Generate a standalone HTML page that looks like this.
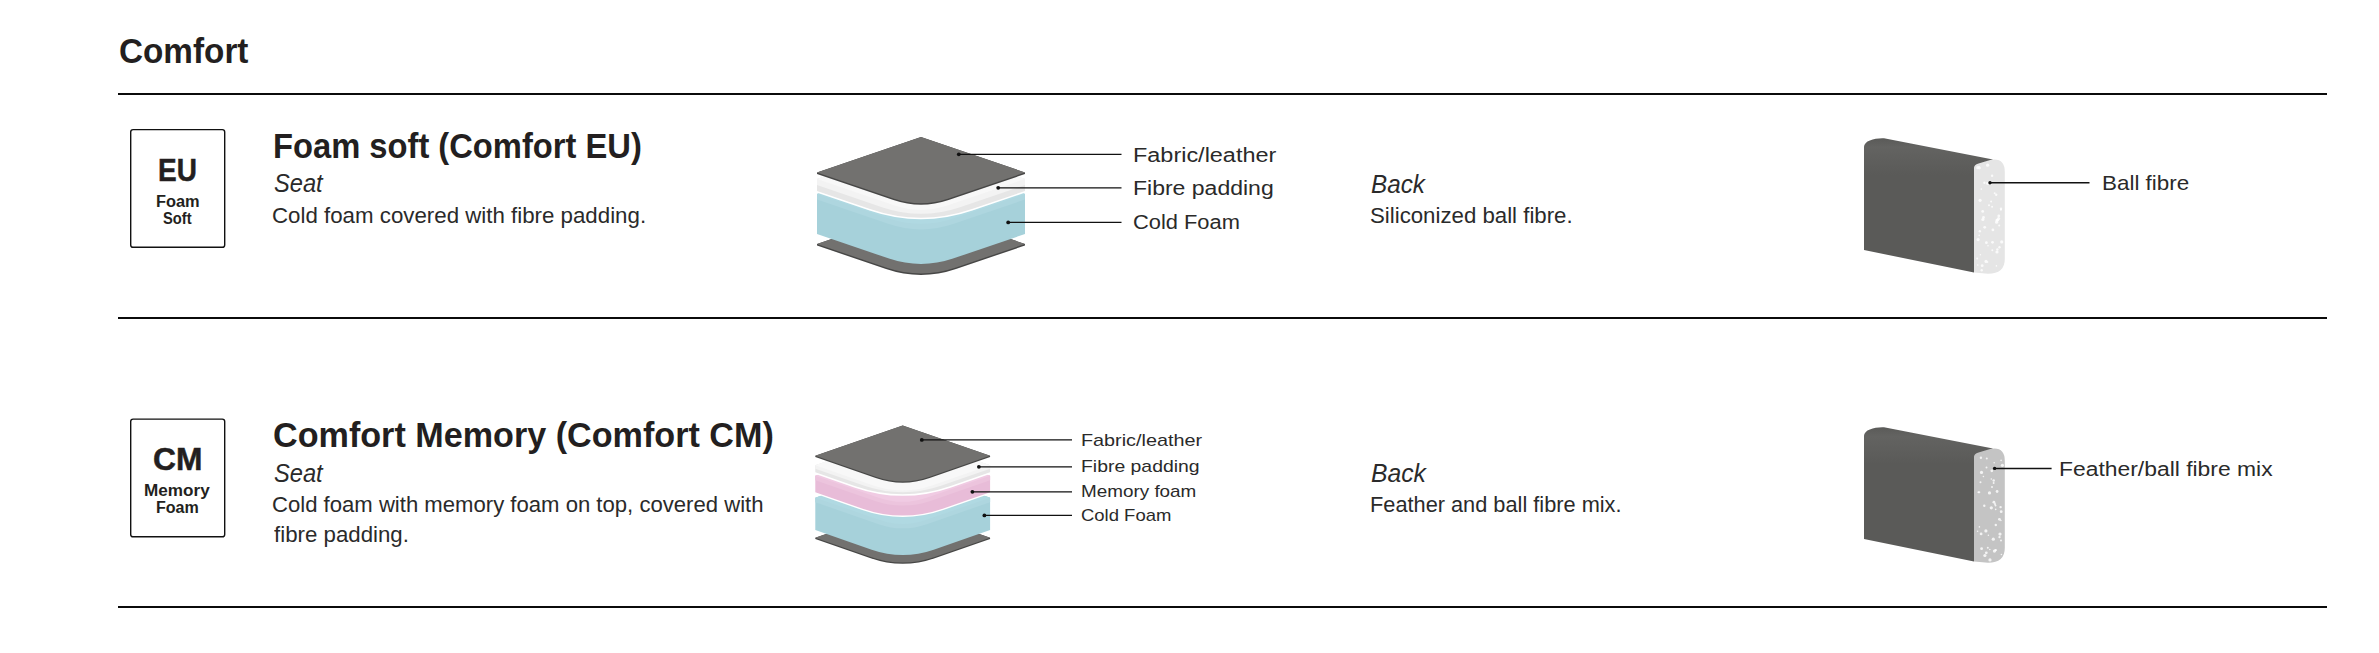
<!DOCTYPE html><html><head><meta charset="utf-8"><title>Comfort</title><style>
html,body{margin:0;padding:0;background:#fff;}
body{width:2379px;height:653px;position:relative;overflow:hidden;font-family:"Liberation Sans",sans-serif;color:#231f20;}
.t{position:absolute;white-space:nowrap;line-height:1;transform-origin:0 0;}
svg{position:absolute;left:0;top:0;}
</style></head><body>
<svg width="2379" height="653" viewBox="0 0 2379 653"><rect x="118" y="93" width="2209" height="2" fill="#0b0b0b"/><rect x="118" y="317" width="2209" height="2" fill="#0b0b0b"/><rect x="118" y="606" width="2209" height="2" fill="#0b0b0b"/><rect x="130.7" y="129.6" width="94" height="117.7" rx="2.4" fill="none" stroke="#111" stroke-width="1.4"/><rect x="130.7" y="419.1" width="94" height="117.7" rx="2.4" fill="none" stroke="#111" stroke-width="1.4"/><path d="M817.00,244.00 L921.00,208.50 L1025.00,244.00 L1025.00,245.50 L956.00,269.05 Q921.00,281.00 886.00,269.05 L817.00,245.50 Z" fill="#474746"/><path d="M817.00,244.00 L921.00,208.50 L1025.00,244.00 L956.00,267.55 Q921.00,279.50 886.00,267.55 Z" fill="#72716f"/><path d="M817.00,194.00 L921.00,158.50 L1025.00,194.00 L1025.00,234.00 L953.00,258.58 Q921.00,269.50 889.00,258.58 L817.00,234.00 Z" fill="#a6d1da"/><path d="M817.00,194.00 L921.00,158.50 L1025.00,194.00 L1025.00,199.50 L953.86,223.78 Q921.00,235.00 888.14,223.78 L817.00,199.50 Z" fill="#aed6df"/><path d="M817.00,194.00 L921.00,158.50 L1025.00,194.00 L954.00,218.24 Q921.00,229.50 888.00,218.24 Z" fill="#b0d9e2"/><path d="M817.00,179.00 L921.00,143.50 L1025.00,179.00 L1025.00,191.00 L972.00,209.09 Q921.00,226.50 870.00,209.09 L817.00,191.00 Z" fill="#e6e6e6" stroke="#fff" stroke-width="3" stroke-linejoin="round" paint-order="stroke"/><path d="M817.00,179.00 L921.00,143.50 L1025.00,179.00 L1025.00,185.00 L960.00,207.19 Q921.00,220.50 882.00,207.19 L817.00,185.00 Z" fill="#f3f3f3"/><path d="M817.00,179.00 L921.00,143.50 L1025.00,179.00 L948.00,205.28 Q921.00,214.50 894.00,205.28 Z" fill="#f8f8f8"/><path d="M817.00,172.50 L921.00,137.00 L1025.00,172.50 L1025.00,174.00 L948.60,200.08 Q921.00,209.50 893.40,200.08 L817.00,174.00 Z" fill="#474746"/><path d="M817.00,172.50 L921.00,137.00 L1025.00,172.50 L948.60,198.58 Q921.00,208.00 893.40,198.58 Z" fill="#72716f"/><line x1="958.8" y1="154.3" x2="1121.5" y2="154.3" stroke="#111" stroke-width="1.35"/><circle cx="958.8" cy="154.3" r="1.9" fill="#111"/><line x1="998.2" y1="187.8" x2="1121.5" y2="187.8" stroke="#111" stroke-width="1.35"/><circle cx="998.2" cy="187.8" r="1.9" fill="#111"/><line x1="1008.2" y1="222.4" x2="1121.5" y2="222.4" stroke="#111" stroke-width="1.35"/><circle cx="1008.2" cy="222.4" r="1.9" fill="#111"/><path d="M815.30,537.70 L902.70,507.40 L990.10,537.70 L990.10,539.00 L934.70,558.21 Q902.70,569.30 870.70,558.21 L815.30,539.00 Z" fill="#474746"/><path d="M815.30,537.70 L902.70,507.40 L990.10,537.70 L934.70,556.91 Q902.70,568.00 870.70,556.91 Z" fill="#72716f"/><path d="M815.30,497.70 L902.70,467.40 L990.10,497.70 L990.10,530.10 L933.70,549.65 Q902.70,560.40 871.70,549.65 L815.30,530.10 Z" fill="#a6d1da"/><path d="M815.30,497.70 L902.70,467.40 L990.10,497.70 L990.10,502.20 L926.81,524.14 Q902.70,532.50 878.59,524.14 L815.30,502.20 Z" fill="#aed6df"/><path d="M815.30,497.70 L902.70,467.40 L990.10,497.70 L925.70,520.03 Q902.70,528.00 879.70,520.03 Z" fill="#b0d9e2"/><path d="M815.30,475.70 L902.70,445.40 L990.10,475.70 L990.10,492.20 L942.70,508.63 Q902.70,522.50 862.70,508.63 L815.30,492.20 Z" fill="#e8bcd8" stroke="#fff" stroke-width="3" stroke-linejoin="round" paint-order="stroke"/><path d="M815.30,475.70 L902.70,445.40 L990.10,475.70 L990.10,480.20 L931.06,500.67 Q902.70,510.50 874.34,500.67 L815.30,480.20 Z" fill="#ecc4dd"/><path d="M815.30,475.70 L902.70,445.40 L990.10,475.70 L926.70,497.68 Q902.70,506.00 878.70,497.68 Z" fill="#f0cbe3"/><path d="M815.30,465.30 L902.70,435.00 L990.10,465.30 L990.10,472.30 L950.70,485.96 Q902.70,502.60 854.70,485.96 L815.30,472.30 Z" fill="#e6e6e6" stroke="#fff" stroke-width="3" stroke-linejoin="round" paint-order="stroke"/><path d="M815.30,465.30 L902.70,435.00 L990.10,465.30 L990.10,468.80 L941.70,485.58 Q902.70,499.10 863.70,485.58 L815.30,468.80 Z" fill="#f3f3f3"/><path d="M815.30,465.30 L902.70,435.00 L990.10,465.30 L932.70,485.20 Q902.70,495.60 872.70,485.20 Z" fill="#f8f8f8"/><path d="M815.30,455.80 L902.70,425.50 L990.10,455.80 L990.10,457.10 L929.70,478.04 Q902.70,487.40 875.70,478.04 L815.30,457.10 Z" fill="#474746"/><path d="M815.30,455.80 L902.70,425.50 L990.10,455.80 L929.70,476.74 Q902.70,486.10 875.70,476.74 Z" fill="#72716f"/><line x1="921.8" y1="439.9" x2="1072" y2="439.9" stroke="#111" stroke-width="1.2"/><circle cx="921.8" cy="439.9" r="1.9" fill="#111"/><line x1="978.9" y1="466.8" x2="1072" y2="466.8" stroke="#111" stroke-width="1.2"/><circle cx="978.9" cy="466.8" r="1.9" fill="#111"/><line x1="972.4" y1="491.8" x2="1072" y2="491.8" stroke="#111" stroke-width="1.2"/><circle cx="972.4" cy="491.8" r="1.9" fill="#111"/><line x1="984.4" y1="515.4" x2="1072" y2="515.4" stroke="#111" stroke-width="1.2"/><circle cx="984.4" cy="515.4" r="1.9" fill="#111"/><defs><linearGradient id="g1" x1="0" y1="138" x2="0" y2="175" gradientUnits="userSpaceOnUse"><stop offset="0" stop-color="#5a5a58"/><stop offset="0.25" stop-color="#636361"/><stop offset="0.5" stop-color="#60605e"/><stop offset="1" stop-color="#5a5a58"/></linearGradient></defs><path d="M1864,147 C1864,140.5 1875,137.8 1884,138.2 L1993,159.4 L1974,168 L1974,272.6 L1864,250 Z" fill="url(#g1)"/><path d="M1974,168 Q1974,164.5 1978.5,163.4 L1991,159.8 Q2004.8,157.5 2004.8,172 L2004.8,259 Q2004.8,273.8 1988,273.8 L1974,272.6 Z" fill="#e5e5e5"/><circle cx="1980.4" cy="254.8" r="0.8" fill="#fff" opacity="0.8"/><circle cx="1983.5" cy="217.5" r="1.4" fill="#fff" opacity="0.8"/><circle cx="1989.0" cy="205.2" r="1.0" fill="#fff" opacity="0.8"/><circle cx="1979.4" cy="168.0" r="1.4" fill="#fff" opacity="0.8"/><circle cx="1988.0" cy="245.8" r="0.8" fill="#fff" opacity="0.8"/><circle cx="1994.7" cy="193.2" r="1.0" fill="#fff" opacity="0.8"/><circle cx="1992.1" cy="175.8" r="1.2" fill="#fff" opacity="0.8"/><circle cx="1977.8" cy="167.7" r="1.6" fill="#fff" opacity="0.8"/><circle cx="1977.2" cy="258.4" r="1.0" fill="#fff" opacity="0.8"/><circle cx="2001.7" cy="241.9" r="1.6" fill="#fff" opacity="0.8"/><circle cx="1982.7" cy="211.4" r="1.4" fill="#fff" opacity="0.8"/><circle cx="1991.1" cy="201.6" r="1.0" fill="#fff" opacity="0.8"/><circle cx="1996.4" cy="265.9" r="0.8" fill="#fff" opacity="0.8"/><circle cx="1987.6" cy="262.1" r="0.8" fill="#fff" opacity="0.8"/><circle cx="1981.7" cy="270.2" r="1.2" fill="#fff" opacity="0.8"/><circle cx="1980.1" cy="200.3" r="1.6" fill="#fff" opacity="0.8"/><circle cx="2000.9" cy="209.7" r="1.0" fill="#fff" opacity="0.8"/><circle cx="1984.7" cy="227.3" r="1.4" fill="#fff" opacity="0.8"/><circle cx="1998.6" cy="218.6" r="1.6" fill="#fff" opacity="0.8"/><circle cx="1998.8" cy="215.9" r="1.4" fill="#fff" opacity="0.8"/><circle cx="1987.6" cy="183.3" r="1.6" fill="#fff" opacity="0.8"/><circle cx="1999.5" cy="247.2" r="1.2" fill="#fff" opacity="0.8"/><circle cx="1979.2" cy="235.4" r="0.8" fill="#fff" opacity="0.8"/><circle cx="1996.9" cy="220.2" r="1.4" fill="#fff" opacity="0.8"/><circle cx="1986.4" cy="242.7" r="1.4" fill="#fff" opacity="0.8"/><circle cx="1978.1" cy="239.6" r="1.6" fill="#fff" opacity="0.8"/><circle cx="1992.1" cy="206.7" r="1.0" fill="#fff" opacity="0.8"/><circle cx="1981.3" cy="189.1" r="0.8" fill="#fff" opacity="0.8"/><circle cx="1996.6" cy="222.2" r="1.6" fill="#fff" opacity="0.8"/><circle cx="1982.9" cy="219.5" r="1.6" fill="#fff" opacity="0.8"/><circle cx="1986.0" cy="261.4" r="1.6" fill="#fff" opacity="0.8"/><circle cx="1992.5" cy="242.3" r="1.4" fill="#fff" opacity="0.8"/><circle cx="1997.0" cy="252.0" r="1.6" fill="#fff" opacity="0.8"/><circle cx="1997.6" cy="220.0" r="1.6" fill="#fff" opacity="0.8"/><circle cx="1982.2" cy="265.7" r="1.4" fill="#fff" opacity="0.8"/><circle cx="1999.2" cy="225.4" r="1.0" fill="#fff" opacity="0.8"/><circle cx="2001.0" cy="208.8" r="1.2" fill="#fff" opacity="0.8"/><circle cx="1987.6" cy="165.2" r="1.6" fill="#fff" opacity="0.8"/><circle cx="1992.9" cy="229.9" r="1.4" fill="#fff" opacity="0.8"/><circle cx="1992.3" cy="250.3" r="1.0" fill="#fff" opacity="0.8"/><circle cx="1991.0" cy="184.2" r="0.8" fill="#fff" opacity="0.8"/><circle cx="1997.4" cy="249.5" r="1.2" fill="#fff" opacity="0.8"/><circle cx="1977.8" cy="265.0" r="0.8" fill="#fff" opacity="0.8"/><circle cx="1979.1" cy="166.8" r="0.8" fill="#fff" opacity="0.8"/><circle cx="1996.2" cy="194.8" r="1.2" fill="#fff" opacity="0.8"/><circle cx="1979.8" cy="231.2" r="1.2" fill="#fff" opacity="0.8"/><circle cx="1984.4" cy="182.8" r="1.2" fill="#fff" opacity="0.8"/><circle cx="1990.4" cy="182.8" r="1.2" fill="#fff" opacity="0.8"/><line x1="1990" y1="182.8" x2="2089.5" y2="182.8" stroke="#111" stroke-width="1.5"/><circle cx="1990" cy="182.8" r="1.7" fill="#111"/><defs><linearGradient id="g2" x1="0" y1="427" x2="0" y2="464" gradientUnits="userSpaceOnUse"><stop offset="0" stop-color="#5a5a58"/><stop offset="0.25" stop-color="#636361"/><stop offset="0.5" stop-color="#60605e"/><stop offset="1" stop-color="#5a5a58"/></linearGradient></defs><path d="M1864,436 C1864,429.5 1875,426.8 1884,427.2 L1993,448.4 L1974,457 L1974,561.6 L1864,539 Z" fill="url(#g2)"/><path d="M1974,457 Q1974,453.5 1978.5,452.4 L1991,448.8 Q2004.8,446.5 2004.8,461 L2004.8,548 Q2004.8,562.8 1988,562.8 L1974,561.6 Z" fill="#c4c4c4"/><circle cx="2001.4" cy="554.5" r="0.8" fill="#fff" opacity="0.8"/><circle cx="1979.3" cy="492.3" r="1.0" fill="#fff" opacity="0.8"/><circle cx="1995.8" cy="525.0" r="1.2" fill="#fff" opacity="0.8"/><circle cx="1983.4" cy="476.5" r="0.8" fill="#fff" opacity="0.8"/><circle cx="1991.8" cy="470.8" r="1.4" fill="#fff" opacity="0.8"/><circle cx="1993.3" cy="539.2" r="1.6" fill="#fff" opacity="0.8"/><circle cx="2001.2" cy="511.7" r="1.4" fill="#fff" opacity="0.8"/><circle cx="1989.8" cy="549.5" r="0.8" fill="#fff" opacity="0.8"/><circle cx="1986.3" cy="552.8" r="1.4" fill="#fff" opacity="0.8"/><circle cx="1987.8" cy="547.7" r="1.0" fill="#fff" opacity="0.8"/><circle cx="1991.3" cy="479.0" r="0.8" fill="#fff" opacity="0.8"/><circle cx="1981.5" cy="472.4" r="1.6" fill="#fff" opacity="0.8"/><circle cx="1990.0" cy="559.9" r="1.6" fill="#fff" opacity="0.8"/><circle cx="1981.6" cy="548.7" r="1.4" fill="#fff" opacity="0.8"/><circle cx="1995.7" cy="550.1" r="1.2" fill="#fff" opacity="0.8"/><circle cx="1997.1" cy="491.5" r="1.4" fill="#fff" opacity="0.8"/><circle cx="1981.1" cy="533.9" r="1.4" fill="#fff" opacity="0.8"/><circle cx="1993.7" cy="480.5" r="1.2" fill="#fff" opacity="0.8"/><circle cx="2000.6" cy="507.1" r="1.2" fill="#fff" opacity="0.8"/><circle cx="1993.9" cy="502.2" r="1.4" fill="#fff" opacity="0.8"/><circle cx="1985.9" cy="530.9" r="1.6" fill="#fff" opacity="0.8"/><circle cx="1995.5" cy="505.6" r="1.0" fill="#fff" opacity="0.8"/><circle cx="2001.0" cy="540.4" r="1.0" fill="#fff" opacity="0.8"/><circle cx="1999.4" cy="519.3" r="1.4" fill="#fff" opacity="0.8"/><circle cx="1984.9" cy="555.5" r="1.6" fill="#fff" opacity="0.8"/><circle cx="1991.3" cy="507.8" r="1.6" fill="#fff" opacity="0.8"/><circle cx="1992.0" cy="487.1" r="1.0" fill="#fff" opacity="0.8"/><circle cx="1989.5" cy="492.9" r="1.6" fill="#fff" opacity="0.8"/><circle cx="1999.5" cy="537.1" r="1.2" fill="#fff" opacity="0.8"/><circle cx="1995.5" cy="550.2" r="1.0" fill="#fff" opacity="0.8"/><circle cx="2002.4" cy="465.3" r="1.6" fill="#fff" opacity="0.8"/><circle cx="1993.6" cy="482.9" r="1.0" fill="#fff" opacity="0.8"/><circle cx="1994.4" cy="551.1" r="1.6" fill="#fff" opacity="0.8"/><circle cx="1980.5" cy="482.2" r="1.0" fill="#fff" opacity="0.8"/><circle cx="2001.1" cy="460.4" r="0.8" fill="#fff" opacity="0.8"/><circle cx="1978.4" cy="492.2" r="1.0" fill="#fff" opacity="0.8"/><circle cx="1994.2" cy="462.8" r="0.8" fill="#fff" opacity="0.8"/><circle cx="1977.6" cy="531.3" r="0.8" fill="#fff" opacity="0.8"/><circle cx="1986.5" cy="467.5" r="1.0" fill="#fff" opacity="0.8"/><circle cx="1995.7" cy="509.4" r="0.8" fill="#fff" opacity="0.8"/><circle cx="1986.8" cy="458.6" r="1.0" fill="#fff" opacity="0.8"/><circle cx="1980.9" cy="457.8" r="1.2" fill="#fff" opacity="0.8"/><circle cx="2000.9" cy="520.5" r="0.8" fill="#fff" opacity="0.8"/><circle cx="1984.3" cy="505.8" r="1.2" fill="#fff" opacity="0.8"/><circle cx="1988.4" cy="535.2" r="0.8" fill="#fff" opacity="0.8"/><circle cx="2000.0" cy="534.1" r="1.6" fill="#fff" opacity="0.8"/><circle cx="1995.0" cy="504.1" r="1.0" fill="#fff" opacity="0.8"/><circle cx="1979.4" cy="526.9" r="0.8" fill="#fff" opacity="0.8"/><line x1="1994.6" y1="468.4" x2="2051.6" y2="468.4" stroke="#111" stroke-width="1.5"/><circle cx="1994.6" cy="468.4" r="1.7" fill="#111"/></svg>
<div class="t" style="left:119.07px;top:33.7px;font-size:35.5px;font-weight:700;transform:scaleX(0.9377);">Comfort</div>
<div class="t" style="left:158.08px;top:154.6px;font-size:31.3px;font-weight:700;transform:scaleX(0.8932);-webkit-text-stroke:0.5px #231f20;">EU</div>
<div class="t" style="left:155.77px;top:194.0px;font-size:16.0px;font-weight:700;transform:scaleX(1.023);">Foam</div>
<div class="t" style="left:163.04px;top:211.1px;font-size:16.0px;font-weight:700;transform:scaleX(0.9181);">Soft</div>
<div class="t" style="left:273.24px;top:127.8px;font-size:35px;font-weight:700;transform:scaleX(0.9345);">Foam soft (Comfort EU)</div>
<div class="t" style="left:273.5px;top:170.4px;font-size:26px;color:#2a2a2a;font-style:italic;transform:scaleX(0.9102);">Seat</div>
<div class="t" style="left:272.47px;top:204.8px;font-size:22.4px;color:#2a2a2a;transform:scaleX(0.9952);">Cold foam covered with fibre padding.</div>
<div class="t" style="left:1132.5px;top:145.5px;font-size:19.5px;color:#2a2a2a;transform:scaleX(1.2019);">Fabric/leather</div>
<div class="t" style="left:1132.52px;top:178.8px;font-size:19.5px;color:#2a2a2a;transform:scaleX(1.1798);">Fibre padding</div>
<div class="t" style="left:1132.68px;top:213.1px;font-size:19.5px;color:#2a2a2a;transform:scaleX(1.1207);">Cold Foam</div>
<div class="t" style="left:1371.23px;top:171.0px;font-size:26px;color:#2a2a2a;font-style:italic;transform:scaleX(0.9316);">Back</div>
<div class="t" style="left:1370.37px;top:204.7px;font-size:22.4px;color:#2a2a2a;transform:scaleX(0.9928);">Siliconized ball fibre.</div>
<div class="t" style="left:2102.17px;top:171.7px;font-size:21.0px;color:#2a2a2a;transform:scaleX(1.0676);">Ball fibre</div>
<div class="t" style="left:153.3px;top:443.8px;font-size:31.3px;font-weight:700;transform:scaleX(1.0147);-webkit-text-stroke:0.5px #231f20;">CM</div>
<div class="t" style="left:144.23px;top:481.9px;font-size:16.2px;font-weight:700;transform:scaleX(1.058);">Memory</div>
<div class="t" style="left:155.98px;top:500.4px;font-size:16.0px;font-weight:700;transform:scaleX(1.0036);">Foam</div>
<div class="t" style="left:272.53px;top:417.3px;font-size:35px;font-weight:700;transform:scaleX(0.9757);">Comfort Memory (Comfort CM)</div>
<div class="t" style="left:273.5px;top:459.9px;font-size:26px;color:#2a2a2a;font-style:italic;transform:scaleX(0.9102);">Seat</div>
<div class="t" style="left:272.17px;top:494.2px;font-size:22.4px;color:#2a2a2a;transform:scaleX(0.9874);">Cold foam with memory foam on top, covered with</div>
<div class="t" style="left:273.52px;top:523.9px;font-size:22.4px;color:#2a2a2a;transform:scaleX(0.9944);">fibre padding.</div>
<div class="t" style="left:1080.95px;top:432.4px;font-size:17.0px;color:#2a2a2a;transform:scaleX(1.1646);">Fabric/leather</div>
<div class="t" style="left:1080.97px;top:457.9px;font-size:17.0px;color:#2a2a2a;transform:scaleX(1.1409);">Fibre padding</div>
<div class="t" style="left:1081.0px;top:482.5px;font-size:17.0px;color:#2a2a2a;transform:scaleX(1.1098);">Memory foam</div>
<div class="t" style="left:1081.2px;top:507.1px;font-size:17.0px;color:#2a2a2a;transform:scaleX(1.0866);">Cold Foam</div>
<div class="t" style="left:1370.81px;top:460.1px;font-size:26px;color:#2a2a2a;font-style:italic;transform:scaleX(0.9488);">Back</div>
<div class="t" style="left:1369.85px;top:493.9px;font-size:22.4px;color:#2a2a2a;transform:scaleX(0.9716);">Feather and ball fibre mix.</div>
<div class="t" style="left:2059.1px;top:458.7px;font-size:20.0px;color:#2a2a2a;transform:scaleX(1.1437);">Feather/ball fibre mix</div>
</body></html>
